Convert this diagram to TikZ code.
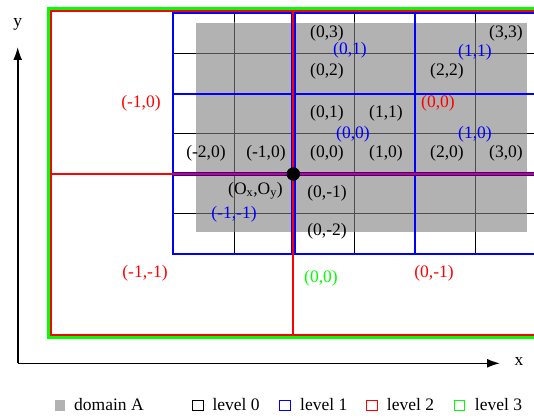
\documentclass[tikz,border=0pt]{standalone}
\usepackage{fontspec}
\setmainfont{Liberation Serif}
\usetikzlibrary{arrows.meta}
\begin{document}
\begin{tikzpicture}[x=1pt,y=-1pt,
  lbl/.style={font=\fontsize{17.5}{20}\selectfont, inner sep=0pt},
  lzero/.style={lbl,text=black},
  lone/.style={lbl,text=blue},
  ltwo/.style={lbl,text=red},
  lthree/.style={lbl,text=green},
  gridzero/.style={draw=black,line width=1.2pt},
  gridzeroin/.style={draw=black!70,line width=1.2pt},
  gridone/.style={draw=blue,line width=2pt},
  gridtwo/.style={draw=red,line width=2pt},
  gridthree/.style={draw=green,line width=3.5pt},
  axis/.style={draw=black,line width=1.6pt,-{Latex[length=13pt,width=9pt]}},
  keybox/.style={minimum size=10.5pt,inner sep=0pt,line width=1pt},
]
\clip (0,0) rectangle (534,417);

% level 0 cell boundaries
\foreach \xx in {234.3,354.7,475.3}
  \draw[gridzero] (\xx,12.7) -- (\xx,254.3);
\foreach \yy in {53.3,133.3,213.3}
  \draw[gridzero] (172.8,\yy) -- (545,\yy);

% domain A, with the level 0 boundaries showing through it
\begin{scope}
  \clip (196,23) rectangle (527,231.7);
  \fill[black!30] (196,23) rectangle (527,231.7);
  \foreach \xx in {234.3,354.7,475.3}
    \draw[gridzeroin] (\xx,12.7) -- (\xx,254.3);
  \foreach \yy in {53.3,133.3,213.3}
    \draw[gridzeroin] (172.8,\yy) -- (545,\yy);
\end{scope}

% level 1 cell boundaries
\draw[gridone] (172.8,12.7) rectangle (545,254.3);
\draw[gridone] (414.5,12.7) -- (414.5,254.3);
\draw[gridone] (172.8,93.5) -- (545,93.5);
\draw[draw=blue,line width=4.4pt] (293.3,12.7) -- (293.3,254.3);
\draw[draw=blue,line width=4.4pt] (172.8,174) -- (545,174);

% level 3 and level 2 cell boundaries
\draw[gridthree] (48.3,8.7) rectangle (560,337.7);
\draw[gridtwo] (51,10.8) rectangle (560,335);
\draw[gridtwo] (293.3,10.8) -- (293.3,335);
\draw[gridtwo] (51,174) -- (560,174);

% origin of the grids
\node[circle,fill=black,inner sep=0pt,minimum size=13.4pt] (O) at (293.3,174) {};
\node[lzero,anchor=base west] (Olbl) at (228,194.3) {(O\textsubscript{x},O\textsubscript{y})};

% level 0 indices
\node[lzero] (c03) at (327,33) {(0,3)};
\node[lzero] (c33) at (506,33) {(3,3)};
\node[lzero] (c02) at (327,71) {(0,2)};
\node[lzero] (c22) at (447,71) {(2,2)};
\node[lzero] (c01) at (327,113) {(0,1)};
\node[lzero] (c11) at (386,113) {(1,1)};
\node[lzero] (cm20) at (206,153) {(-2,0)};
\node[lzero] (cm10) at (266,153) {(-1,0)};
\node[lzero] (c00) at (327,153) {(0,0)};
\node[lzero] (c10) at (386,153) {(1,0)};
\node[lzero] (c20) at (447,153) {(2,0)};
\node[lzero] (c30) at (506,153) {(3,0)};
\node[lzero] (c0m1) at (327,193) {(0,-1)};
\node[lzero] (c0m2) at (327,231) {(0,-2)};

% level 1 indices
\node[lone] (b01) at (350,50) {(0,1)};
\node[lone] (b11) at (475,52) {(1,1)};
\node[lone] (b00) at (353,134) {(0,0)};
\node[lone] (b10) at (475,134) {(1,0)};
\node[lone] (bm1m1) at (234,214) {(-1,-1)};

% level 2 indices
\node[ltwo] (rm10) at (141,103) {(-1,0)};
\node[ltwo] (r00) at (438,103) {(0,0)};
\node[ltwo] (rm1m1) at (145,273) {(-1,-1)};
\node[ltwo] (r0m1) at (434,273) {(0,-1)};

% level 3 index
\node[lthree] (g00) at (321,278) {(0,0)};

% axes
\coordinate (orig) at (17.7,363.3);
\coordinate (ytip) at (17.7,47);
\coordinate (xtip) at (500,363.3);
\draw[axis] (orig) -- (ytip);
\draw[axis] (orig) -- (xtip);
\node[lzero] (ylbl) at (17.7,24) {y};
\node[lzero] (xlbl) at (519,361) {x};

% legend
\node[keybox,fill=black!30] (kA) at (60,405.5) {};
\node[lzero,anchor=base west] (tA) at (74,410.5) {domain A};
\node[keybox,draw=black] (k0) at (197.8,405.5) {};
\node[lzero,anchor=base west] (t0) at (212.3,410.5) {level 0};
\node[keybox,draw=blue] (k1) at (285,405.5) {};
\node[lzero,anchor=base west] (t1) at (300,410.5) {level 1};
\node[keybox,draw=red] (k2) at (372,405.5) {};
\node[lzero,anchor=base west] (t2) at (386.7,410.5) {level 2};
\node[keybox,draw=green] (k3) at (459.7,405.5) {};
\node[lzero,anchor=base west] (t3) at (474.7,410.5) {level 3};
\end{tikzpicture}
\end{document}
